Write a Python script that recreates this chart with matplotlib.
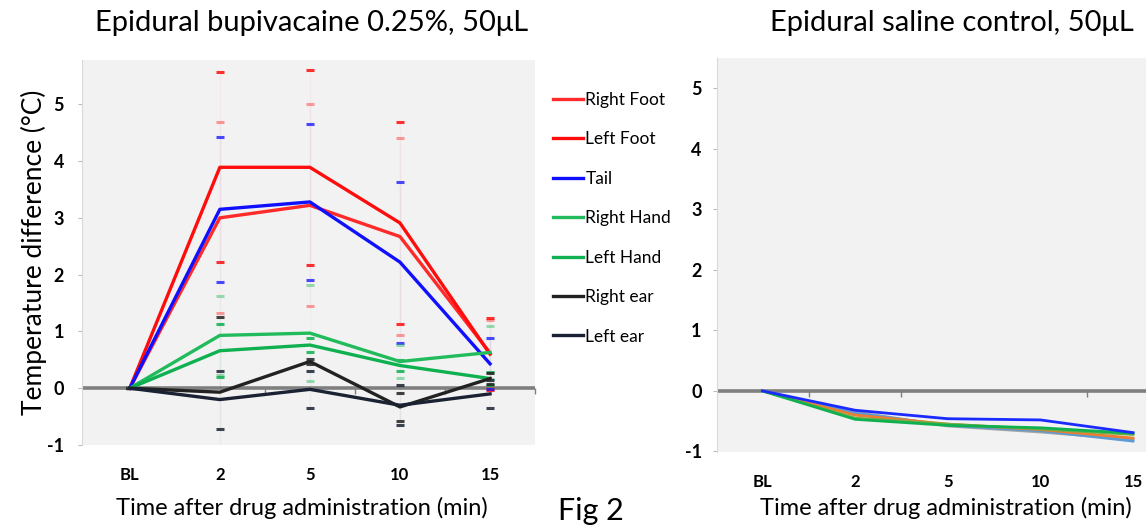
import numpy as np
import matplotlib
matplotlib.use('Agg')
import matplotlib.pyplot as plt

plt.rcParams['font.family'] = ['Lato', 'DejaVu Sans']

# time points (category axis)
times = ['BL', '2', '5', '10', '15']

# epidural bupivacaine: means and SD
bup_names = ['Right Foot', 'Left Foot', 'Tail', 'Right Hand', 'Left Hand', 'Right ear', 'Left ear']
bup_colors = ['#ff2a2a', '#ff0d0d', '#1010ff', '#22bb5c', '#0fb050', '#222222', '#1b2233']
bup_mean = [
    [0, 3.00, 3.22, 2.67, 0.62],
    [0, 3.89, 3.89, 2.91, 0.60],
    [0, 3.15, 3.28, 2.22, 0.43],
    [0, 0.93, 0.97, 0.47, 0.63],
    [0, 0.66, 0.76, 0.40, 0.17],
    [0, -0.07, 0.47, -0.33, 0.17],
    [0, -0.20, -0.02, -0.30, -0.10],
]
bup_sd = [
    [0, 1.68, 1.78, 1.73, 0.58],
    [0, 1.67, 1.72, 1.78, 0.64],
    [0, 1.28, 1.37, 1.42, 0.45],
    [0, 0.69, 0.85, 0.29, 0.47],
    [0, 0.47, 0.12, 0.10, 0.12],
    [0, 1.32, 0.05, 0.24, 0.10],
    [0, 0.51, 0.33, 0.35, 0.25],
]
cap_alpha = [0.45, 0.85, 0.75, 0.45, 0.85, 0.85, 0.85]

# epidural saline control
sal_colors = ['#a5a5a5', '#5b9bd5', '#ed7d31', '#70ad47', '#10b050', '#1a2bff']
sal_mean = [
    [0, -0.35, -0.58, -0.68, -0.80],
    [0, -0.37, -0.57, -0.66, -0.83],
    [0, -0.40, -0.55, -0.64, -0.78],
    [0, -0.45, -0.55, -0.63, -0.72],
    [0, -0.47, -0.57, -0.61, -0.70],
    [0, -0.32, -0.46, -0.48, -0.69],
]

bg = '#f2f2f2'
fig = plt.figure(figsize=(11.46, 5.27), dpi=100)

x = np.arange(len(times))


def style_axis(ax, ylo, yhi, xlo, xhi, tick_pos):
    ax.set_facecolor(bg)
    ax.set_xlim(xlo, xhi)
    ax.set_ylim(ylo, yhi)
    for s in ['top', 'right', 'bottom']:
        ax.spines[s].set_visible(False)
    ax.spines['left'].set_color('#d9d9d9')
    ax.set_yticks(np.arange(-1, 6))
    ax.set_yticklabels([str(v) for v in range(-1, 6)], fontsize=13, fontweight='bold')
    ax.tick_params(axis='y', length=3, color='#bbbbbb', pad=10)
    ax.set_xticks(x)
    ax.set_xticklabels(times, fontsize=12, fontweight='bold')
    ax.tick_params(axis='x', length=0, pad=16)
    ax.axhline(0, color='#7f7f7f', lw=2.6, zorder=1)
    sec = ax.secondary_xaxis((0 - ylo) / (yhi - ylo))
    sec.set_xticks(tick_pos)
    sec.set_xticklabels([])
    sec.tick_params(length=4, width=1, color='#7f7f7f', direction='out')
    sec.spines['bottom'].set_visible(False)


# left panel
ax1 = fig.add_axes([0.0716, 0.1556, 0.3953, 0.7306])
style_axis(ax1, -1.0, 5.78, -0.53, 4.5, [1.5, 2.5, 3.5, 4.5])
for name, col, m, sd, ca in zip(bup_names, bup_colors, bup_mean, bup_sd, cap_alpha):
    cont = ax1.errorbar(x, m, yerr=sd, fmt='none', ecolor=col, elinewidth=1,
                        capsize=3, capthick=2.2, zorder=2)
    for cl in cont.lines[1]:
        cl.set_alpha(ca)
    for bl in cont.lines[2]:
        bl.set_alpha(0.03)
    ax1.plot(x, m, color=col, lw=2.4, label=name, zorder=3)
ax1.set_ylabel('Temperature difference (\u00b0C)', fontsize=19, labelpad=0)
ax1.legend(loc='upper left', bbox_to_anchor=(1.025, 0.935), frameon=False,
           fontsize=12.5, handlelength=1.7, handletextpad=0.15, labelspacing=1.35,
           borderaxespad=0)

# right panel
ax2 = fig.add_axes([0.6257, 0.1423, 0.3743, 0.7476])
style_axis(ax2, -1.01, 5.5, -0.49, 4.14, [0.5, 1.5, 3.5])
for col, m in zip(sal_colors, sal_mean):
    ax2.plot(x, m, color=col, lw=2.0, zorder=3)
ax2.tick_params(axis='y', pad=8)

fig.text(0.272, 0.956, 'Epidural bupivacaine 0.25%, 50\u03bcL', fontsize=21, ha='center', va='center')
fig.text(0.831, 0.956, 'Epidural saline control, 50\u03bcL', fontsize=21, ha='center', va='center')
fig.text(0.263, 0.036, 'Time after drug administration (min)', fontsize=17, ha='center', va='center')
fig.text(0.825, 0.036, 'Time after drug administration (min)', fontsize=17, ha='center', va='center')
fig.text(0.487, 0.004, 'Fig 2', fontsize=22, ha='left', va='bottom')

fig.savefig('out.png', dpi=100, facecolor='white')
